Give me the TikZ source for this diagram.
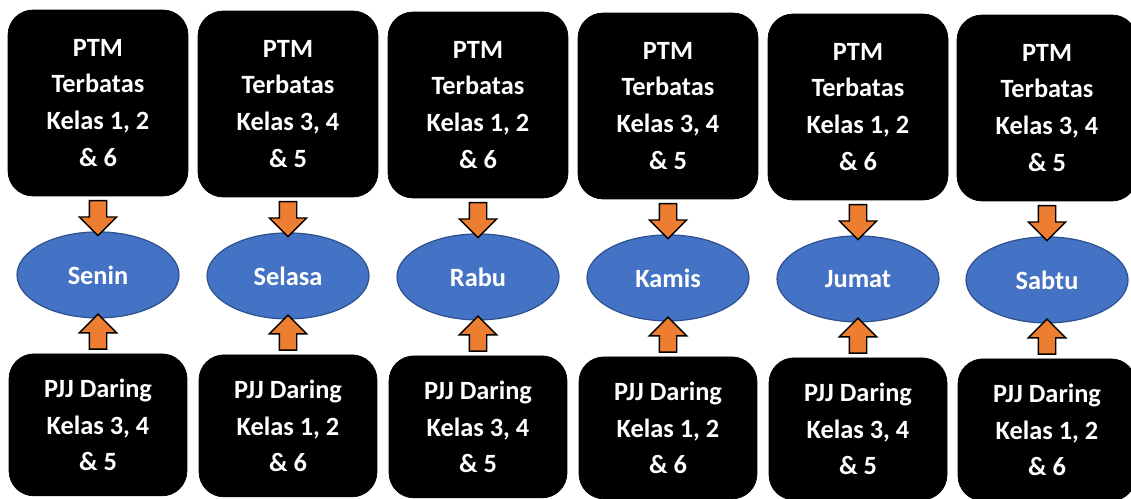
\documentclass[tikz,border=0pt]{standalone}
\usepackage{fontspec}
\setmainfont{Carlito}
\usetikzlibrary{shapes.geometric, shapes.arrows, positioning}
\definecolor{dayblue}{HTML}{4472C4}
\definecolor{dayedge}{HTML}{2F528F}
\definecolor{flow}{HTML}{ED7D31}

\begin{document}
\begin{tikzpicture}[
      x=0.02cm, y=-0.02cm,
      % Define compact styles
      ptm/.style={rectangle, rounded corners=0.5cm, draw=black, fill=black, text=white, minimum width=3.6cm, minimum height=3.72cm, align=center, font=\fontsize{15}{21}\selectfont\bfseries},
      pjj/.style={ptm, minimum width=3.56cm, minimum height=2.84cm},
      hari/.style={ellipse, draw=dayedge, line width=0.7pt, fill=dayblue, text=white, minimum width=3.24cm, minimum height=1.72cm, font=\fontsize{15}{21}\selectfont\bfseries},
      panah/.style={single arrow, draw=black, line width=0.8pt, fill=flow, inner xsep=0pt, inner ysep=0.16cm, single arrow head extend=0.2cm, minimum height=0.7cm}
    ]
    \useasboundingbox (0,0) rectangle (1131,499);

    % Top row - PTM Terbatas
    \node[ptm] (ptm1) at (98,103) {PTM\\Terbatas\\Kelas 1, 2\\\& 6};
    \node[ptm] (ptm2) at (288,104) {PTM\\Terbatas\\Kelas 3, 4\\\& 5};
    \node[ptm] (ptm3) at (478,105) {PTM\\Terbatas\\Kelas 1, 2\\\& 6};
    \node[ptm] (ptm4) at (668,106) {PTM\\Terbatas\\Kelas 3, 4\\\& 5};
    \node[ptm] (ptm5) at (858,107) {PTM\\Terbatas\\Kelas 1, 2\\\& 6};
    \node[ptm] (ptm6) at (1047,108) {PTM\\Terbatas\\Kelas 3, 4\\\& 5};

    % Middle row - days
    \node[hari, below=0.7cm of ptm1] (senin) {Senin};
    \node[hari, below=0.7cm of ptm2] (selasa) {Selasa};
    \node[hari, below=0.7cm of ptm3] (rabu) {Rabu};
    \node[hari, below=0.7cm of ptm4] (kamis) {Kamis};
    \node[hari, below=0.7cm of ptm5] (jumat) {Jumat};
    \node[hari, below=0.7cm of ptm6] (sabtu) {Sabtu};

    % Bottom row - PJJ Daring
    \node[pjj, below=0.7cm of senin] (pjj1) {PJJ Daring\\Kelas 3, 4\\\& 5};
    \node[pjj, below=0.7cm of selasa] (pjj2) {PJJ Daring\\Kelas 1, 2\\\& 6};
    \node[pjj, below=0.7cm of rabu] (pjj3) {PJJ Daring\\Kelas 3, 4\\\& 5};
    \node[pjj, below=0.7cm of kamis] (pjj4) {PJJ Daring\\Kelas 1, 2\\\& 6};
    \node[pjj, below=0.7cm of jumat] (pjj5) {PJJ Daring\\Kelas 3, 4\\\& 5};
    \node[pjj, below=0.7cm of sabtu] (pjj6) {PJJ Daring\\Kelas 1, 2\\\& 6};

    % Arrows down
    \path (ptm1.south) -- (senin.north) node[panah, midway, rotate=-90] (a1) {};
    \path (ptm2.south) -- (selasa.north) node[panah, midway, rotate=-90] (a2) {};
    \path (ptm3.south) -- (rabu.north) node[panah, midway, rotate=-90] (a3) {};
    \path (ptm4.south) -- (kamis.north) node[panah, midway, rotate=-90] (a4) {};
    \path (ptm5.south) -- (jumat.north) node[panah, midway, rotate=-90] (a5) {};
    \path (ptm6.south) -- (sabtu.north) node[panah, midway, rotate=-90] (a6) {};

    % Arrows up
    \path (pjj1.north) -- (senin.south) node[panah, midway, rotate=90] (b1) {};
    \path (pjj2.north) -- (selasa.south) node[panah, midway, rotate=90] (b2) {};
    \path (pjj3.north) -- (rabu.south) node[panah, midway, rotate=90] (b3) {};
    \path (pjj4.north) -- (kamis.south) node[panah, midway, rotate=90] (b4) {};
    \path (pjj5.north) -- (jumat.south) node[panah, midway, rotate=90] (b5) {};
    \path (pjj6.north) -- (sabtu.south) node[panah, midway, rotate=90] (b6) {};

  \end{tikzpicture}
\end{document}
